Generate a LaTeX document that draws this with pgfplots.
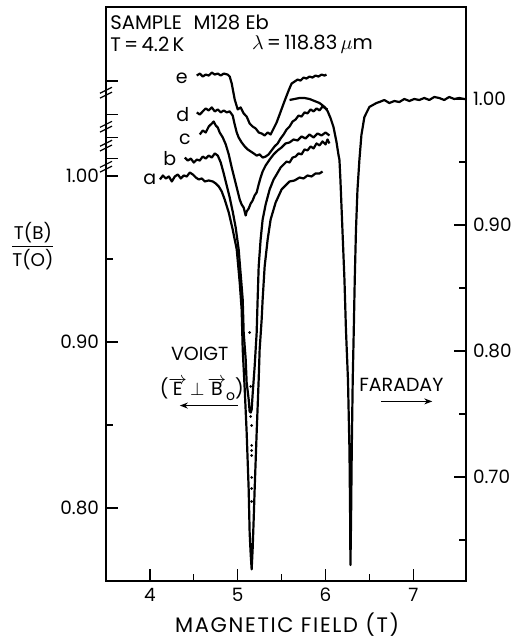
\documentclass[border=0pt]{standalone}
\usepackage{fontspec}
\setmainfont{Poppins}
\usepackage{pgfplots}
\pgfplotsset{compat=1.18}
\usetikzlibrary{arrows.meta}
\pgfplotsset{curve/.style={black, line width=1.1pt, line join=round, mark=none}}
\begin{document}
\begin{tikzpicture}
\path[use as bounding box] (-53pt,-29pt) rectangle (205.5pt,290.5pt);
\begin{axis}[name=main, at={(0,0)}, anchor=south west, scale only axis,
  width=180pt, height=287pt,
  xmin=3.5, xmax=7.6, ymin=0.756, ymax=1.1018,
  xtick={4,5,6,7}, xticklabels={4,5,6,7}, minor xtick={4.5,5.5,6.5},
  ytick={0.8,0.9,1.0}, yticklabels={0.80,0.90,1.00}, minor ytick={0.85,0.95},
  extra y ticks={1.0105,1.0232,1.0370,1.0572}, extra y tick labels={},
  xtick pos=left, ytick pos=left, tick align=inside,
  major tick length=6pt, minor tick length=3.5pt,
  axis line style={line width=0.8pt},
  every tick/.style={line width=0.7pt, black},
  ticklabel style={font=\fontsize{9.2}{10}\selectfont},
  clip=false,
]
% curve a
\addplot[curve] coordinates {(4.114,0.9979)(4.148,1.0003)(4.182,0.9985)(4.216,0.9997)(4.250,0.9967)(4.284,0.9997)(4.318,1.0009)(4.352,0.9985)(4.386,1.0003)(4.420,0.9997)(4.455,1.0021)(4.489,1.0009)(4.523,0.9991)(4.557,0.9979)(4.591,0.9985)(4.625,0.9967)(4.670,0.9973)(4.716,0.9967)(4.750,0.9955)(4.784,0.9937)(4.818,0.9907)(4.852,0.9858)(4.898,0.9780)(4.943,0.9678)(4.989,0.9557)(5.023,0.9358)(5.045,0.9196)(5.057,0.8955)(5.080,0.8714)(5.102,0.8455)(5.125,0.8111)(5.136,0.7852)(5.148,0.7720)(5.159,0.7630)(5.170,0.7750)(5.182,0.7931)(5.193,0.8111)(5.216,0.8455)(5.239,0.8774)(5.250,0.8955)(5.273,0.9136)(5.284,0.9256)(5.307,0.9455)(5.341,0.9617)(5.375,0.9738)(5.432,0.9840)(5.500,0.9919)(5.591,0.9967)(5.648,0.9973)(5.705,0.9991)(5.750,0.9985)(5.795,1.0003)(5.841,0.9997)(5.886,1.0015)(5.932,1.0015)(5.966,1.0027)};
% curve b
\addplot[curve] coordinates {(4.398,1.0111)(4.432,1.0093)(4.466,1.0105)(4.500,1.0081)(4.534,1.0099)(4.568,1.0093)(4.602,1.0117)(4.636,1.0105)(4.670,1.0123)(4.705,1.0111)(4.739,1.0136)(4.773,1.0123)(4.807,1.0081)(4.841,1.0015)(4.875,0.9943)(4.909,0.9870)(4.943,0.9786)(4.977,0.9690)(5.011,0.9557)(5.034,0.9407)(5.057,0.9256)(5.068,0.9057)(5.091,0.8895)(5.102,0.8756)(5.125,0.8654)(5.136,0.8581)(5.148,0.8575)(5.159,0.8593)(5.170,0.8684)(5.193,0.8852)(5.216,0.9057)(5.227,0.9256)(5.239,0.9455)(5.261,0.9617)(5.284,0.9738)(5.318,0.9828)(5.364,0.9919)(5.409,0.9979)(5.443,1.0009)(5.489,1.0051)(5.523,1.0069)(5.557,1.0087)(5.591,1.0081)(5.625,1.0111)(5.659,1.0117)(5.693,1.0136)(5.727,1.0130)(5.761,1.0160)(5.795,1.0154)(5.830,1.0178)(5.864,1.0166)(5.898,1.0196)(5.932,1.0184)(5.966,1.0208)(6.000,1.0190)(6.023,1.0220)(6.045,1.0196)};
% curve c
\addplot[curve] coordinates {(4.568,1.0250)(4.602,1.0274)(4.636,1.0262)(4.670,1.0298)(4.705,1.0316)(4.727,1.0328)(4.750,1.0304)(4.773,1.0292)(4.795,1.0262)(4.830,1.0232)(4.864,1.0190)(4.898,1.0130)(4.932,1.0051)(4.966,0.9979)(5.000,0.9907)(5.023,0.9858)(5.045,0.9828)(5.068,0.9810)(5.091,0.9762)(5.102,0.9786)(5.125,0.9804)(5.148,0.9834)(5.170,0.9852)(5.193,0.9883)(5.216,0.9901)(5.239,0.9949)(5.261,0.9991)(5.284,1.0027)(5.318,1.0063)(5.364,1.0099)(5.409,1.0130)(5.455,1.0154)(5.500,1.0172)(5.545,1.0196)(5.591,1.0202)(5.636,1.0220)(5.682,1.0214)(5.727,1.0238)(5.773,1.0226)(5.818,1.0250)(5.864,1.0232)(5.909,1.0256)(5.955,1.0244)(6.000,1.0262)(6.045,1.0244)};
% curve d
\addplot[curve] coordinates {(4.534,1.0383)(4.568,1.0370)(4.602,1.0389)(4.636,1.0407)(4.670,1.0395)(4.705,1.0413)(4.739,1.0389)(4.773,1.0401)(4.807,1.0383)(4.841,1.0395)(4.875,1.0383)(4.909,1.0389)(4.943,1.0364)(4.966,1.0310)(4.989,1.0262)(5.011,1.0232)(5.045,1.0202)(5.080,1.0178)(5.114,1.0160)(5.148,1.0148)(5.182,1.0136)(5.216,1.0123)(5.250,1.0130)(5.284,1.0111)(5.318,1.0117)(5.352,1.0130)(5.386,1.0154)(5.420,1.0178)(5.455,1.0196)(5.489,1.0226)(5.523,1.0250)(5.557,1.0280)(5.591,1.0298)(5.625,1.0328)(5.659,1.0340)(5.693,1.0364)(5.727,1.0358)(5.761,1.0383)(5.795,1.0377)(5.830,1.0401)(5.864,1.0389)(5.898,1.0407)(5.932,1.0395)(5.966,1.0419)(6.000,1.0407)(6.023,1.0401)};
% curve e
\addplot[curve] coordinates {(4.534,1.0605)(4.568,1.0617)(4.602,1.0599)(4.636,1.0611)(4.670,1.0605)(4.705,1.0623)(4.739,1.0611)(4.773,1.0617)(4.807,1.0605)(4.841,1.0617)(4.886,1.0611)(4.909,1.0599)(4.932,1.0557)(4.966,1.0461)(5.000,1.0401)(5.034,1.0413)(5.068,1.0377)(5.102,1.0358)(5.136,1.0316)(5.170,1.0298)(5.205,1.0286)(5.239,1.0262)(5.273,1.0256)(5.307,1.0244)(5.341,1.0262)(5.375,1.0250)(5.409,1.0286)(5.443,1.0322)(5.477,1.0370)(5.511,1.0419)(5.545,1.0467)(5.580,1.0515)(5.614,1.0557)(5.648,1.0569)(5.682,1.0581)(5.716,1.0575)(5.750,1.0593)(5.784,1.0587)(5.818,1.0599)(5.852,1.0593)(5.886,1.0605)(5.920,1.0599)(5.955,1.0611)(5.989,1.0605)(6.011,1.0611)};
% dotted extension
\addplot[black, only marks, mark=*, mark size=0.45pt] coordinates {(5.136,0.9057)(5.148,0.8732)(5.148,0.8551)(5.159,0.8497)(5.159,0.8377)(5.159,0.8346)(5.159,0.8316)(5.159,0.8184)(5.159,0.8117)(5.159,0.8039)};
% axis breaks
\draw[line width=0.6pt] ([shift={(-3pt,-2.8pt)}]axis cs:3.5,1.0503) -- ([shift={(3pt,0.2pt)}]axis cs:3.5,1.0503);
\draw[line width=0.6pt] ([shift={(-3pt,-0.4pt)}]axis cs:3.5,1.0503) -- ([shift={(3pt,2.6pt)}]axis cs:3.5,1.0503);
\draw[line width=0.6pt] ([shift={(-3pt,-2.8pt)}]axis cs:3.5,1.0298) -- ([shift={(3pt,0.2pt)}]axis cs:3.5,1.0298);
\draw[line width=0.6pt] ([shift={(-3pt,-0.4pt)}]axis cs:3.5,1.0298) -- ([shift={(3pt,2.6pt)}]axis cs:3.5,1.0298);
\draw[line width=0.6pt] ([shift={(-3pt,-2.8pt)}]axis cs:3.5,1.0184) -- ([shift={(3pt,0.2pt)}]axis cs:3.5,1.0184);
\draw[line width=0.6pt] ([shift={(-3pt,-0.4pt)}]axis cs:3.5,1.0184) -- ([shift={(3pt,2.6pt)}]axis cs:3.5,1.0184);
\draw[line width=0.6pt] ([shift={(-3pt,-2.8pt)}]axis cs:3.5,1.0057) -- ([shift={(3pt,0.2pt)}]axis cs:3.5,1.0057);
\draw[line width=0.6pt] ([shift={(-3pt,-0.4pt)}]axis cs:3.5,1.0057) -- ([shift={(3pt,2.6pt)}]axis cs:3.5,1.0057);
% texts
\node[anchor=west, inner sep=0pt, font=\fontsize{9.8}{11}\selectfont] at (axis cs:3.545,1.0922) {SAMPLE\hspace{0.6em}M128 Eb};
\node[anchor=west, inner sep=0pt, font=\fontsize{9.8}{11}\selectfont] at (axis cs:3.545,1.0792) {T\,=\,4.2\,K};
\node[anchor=west, inner sep=0pt, font=\fontsize{9.8}{11}\selectfont] at (axis cs:5.159,1.0792) {$\lambda$\,=\,118.83\,$\mu$m};
\node[font=\fontsize{9.5}{11}\selectfont] at (axis cs:4.364,1.0587) {e};
\node[font=\fontsize{9.5}{11}\selectfont] at (axis cs:4.375,1.0370) {d};
\node[font=\fontsize{9.5}{11}\selectfont] at (axis cs:4.398,1.0220) {c};
\node[font=\fontsize{9.5}{11}\selectfont] at (axis cs:4.227,1.0105) {b};
\node[font=\fontsize{9.5}{11}\selectfont] at (axis cs:4.000,0.9979) {a};
\node[inner sep=0pt, font=\fontsize{9.5}{11}\selectfont] at (axis cs:4.568,0.8928) {VOIGT};
\node[inner sep=0pt, font=\fontsize{9.5}{11}\selectfont] at (axis cs:4.591,0.8716) {(\ensuremath{\overrightarrow{\mbox{E}}}\,\ensuremath{\perp}\,\ensuremath{\overrightarrow{\mbox{B}}}\raisebox{-0.5ex}{\fontsize{7}{8}\selectfont o})};
\draw[-{Stealth[length=4pt,width=3pt]}, line width=0.6pt] (axis cs:5.0,0.8617) -- (axis cs:4.341,0.8617);
\node[inner sep=0pt, font=\fontsize{9.5}{11}\selectfont] at (axis cs:6.864,0.8744) {FARADAY};
\draw[-{Stealth[length=4pt,width=3pt]}, line width=0.6pt] (axis cs:6.636,0.8642) -- (axis cs:7.216,0.8642);
\node[font=\fontsize{10.5}{12}\selectfont\addfontfeature{LetterSpace=8}] at (axis description cs:0.503,-0.0767) {MAGNETIC FIELD (T)};
\node[font=\fontsize{9.2}{11}\selectfont] at (axis description cs:-0.203,0.584) {$\displaystyle\frac{\mbox{T(B)}}{\mbox{T(O)}}$};
\end{axis}
\begin{axis}[at={(0,0)}, anchor=south west, scale only axis,
  width=180pt, height=287pt,
  xmin=3.5, xmax=7.6, ymin=0.6175, ymax=1.073,
  xtick=\empty,
  ytick={0.7,0.8,0.9,1.0}, yticklabels={0.70,0.80,0.90,1.00}, minor ytick={0.65,0.75,0.85,0.95},
  ytick pos=right, tick align=inside,
  major tick length=6pt, minor tick length=3.5pt,
  axis line style={line width=0.8pt},
  every tick/.style={line width=0.7pt, black},
  ticklabel style={font=\fontsize{9.2}{10}\selectfont},
]
% Faraday
\addplot[curve] coordinates {(5.591,0.9992)(5.648,1.0000)(5.705,1.0008)(5.761,1.0008)(5.818,1.0000)(5.875,0.9984)(5.932,0.9968)(5.989,0.9937)(6.023,0.9905)(6.057,0.9849)(6.091,0.9778)(6.125,0.9659)(6.148,0.9556)(6.159,0.9516)(6.170,0.9357)(6.193,0.8960)(6.216,0.8563)(6.233,0.8167)(6.256,0.7770)(6.273,0.7214)(6.281,0.6659)(6.284,0.6302)(6.291,0.6659)(6.299,0.7214)(6.310,0.7770)(6.322,0.8167)(6.333,0.8563)(6.347,0.8960)(6.364,0.9278)(6.386,0.9516)(6.409,0.9714)(6.443,0.9857)(6.500,0.9937)(6.580,0.9968)(6.614,0.9976)(6.670,0.9992)(6.727,0.9968)(6.784,0.9984)(6.841,0.9976)(6.898,1.0000)(6.955,0.9984)(7.011,1.0000)(7.068,0.9992)(7.125,1.0008)(7.182,0.9992)(7.239,1.0016)(7.295,1.0008)(7.352,0.9992)(7.409,1.0016)(7.466,1.0000)(7.523,1.0008)(7.580,1.0000)(7.6,1.0000)};
\end{axis}
\end{tikzpicture}
\end{document}
